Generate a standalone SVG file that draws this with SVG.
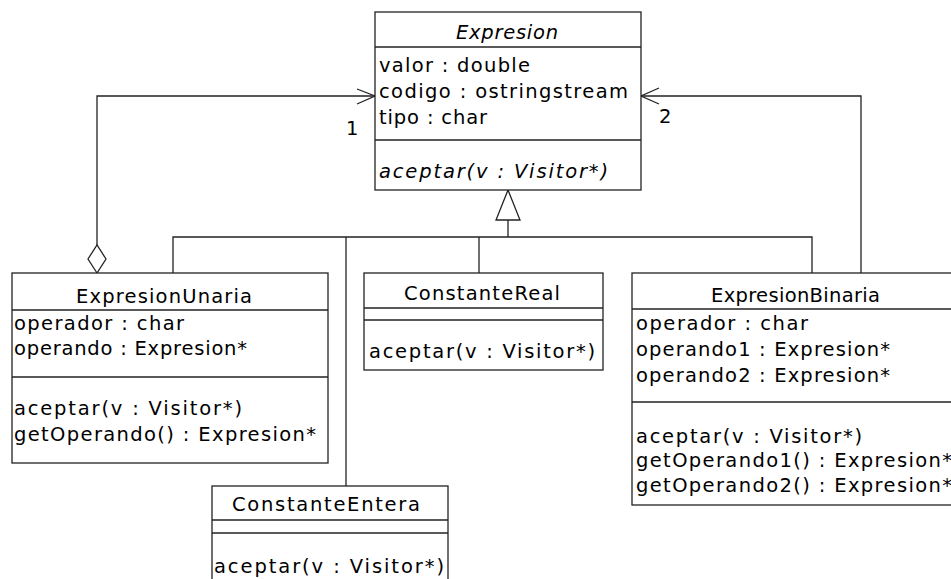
<svg xmlns="http://www.w3.org/2000/svg" width="951" height="579" viewBox="0 0 951 579">
<style>
  text { font-family: "DejaVu Sans", "Liberation Sans", sans-serif; font-size: 19.5px; fill: #000; }
  .it { font-style: italic; }
  .box { fill: #fff; stroke: #222; stroke-width: 1.3; }
  .sep { stroke: #222; stroke-width: 1.3; }
  .ln { fill: none; stroke: #222; stroke-width: 1.3; }
</style>
<rect width="951" height="579" fill="#fff"/>
<g id="connectors">
  <polyline class="ln" points="173,273 173,237 812,237 812,273"/>
  <line class="ln" x1="346" y1="237" x2="346" y2="486"/>
  <line class="ln" x1="479" y1="237" x2="479" y2="273"/>
  <line class="ln" x1="508" y1="220" x2="508" y2="237"/>
  <polygon points="508,190 496,220 520,220" fill="#fff" stroke="#222" stroke-width="1.3"/>
  <polyline class="ln" points="97,245 97,96 375,96"/>
  <polygon points="97,273 88,259 97,245 106,259" fill="#fff" stroke="#222" stroke-width="1.3"/>
  <polyline class="ln" points="357,89 375,96 357,104"/>
  <text x="346" y="135">1</text>
  <polyline class="ln" points="861,273 861,96 641,96"/>
  <polyline class="ln" points="659,88 641,96 659,104"/>
  <text x="659" y="123">2</text>
</g>
<g id="Expresion">
  <rect class="box" x="375" y="12" width="266" height="178"/>
  <line class="sep" x1="375" y1="47" x2="641" y2="47"/>
  <line class="sep" x1="375" y1="140" x2="641" y2="140"/>
  <text class="it" x="456" y="39" textLength="102" lengthAdjust="spacing">Expresion</text>
  <text x="379" y="72" textLength="151" lengthAdjust="spacing">valor : double</text>
  <text x="379" y="98" textLength="249" lengthAdjust="spacing">codigo : ostringstream</text>
  <text x="379" y="124" textLength="108" lengthAdjust="spacing">tipo : char</text>
  <text class="it" x="379" y="178" textLength="229" lengthAdjust="spacing">aceptar(v : Visitor*)</text>
</g>
<g id="ExpresionUnaria">
  <rect class="box" x="12" y="273" width="316" height="190"/>
  <line class="sep" x1="12" y1="310" x2="328" y2="310"/>
  <line class="sep" x1="12" y1="377" x2="328" y2="377"/>
  <text x="76" y="303" textLength="176" lengthAdjust="spacing">ExpresionUnaria</text>
  <text x="14" y="330" textLength="170" lengthAdjust="spacing">operador : char</text>
  <text x="14" y="355" textLength="233" lengthAdjust="spacing">operando : Expresion*</text>
  <text x="14" y="415" textLength="228" lengthAdjust="spacing">aceptar(v : Visitor*)</text>
  <text x="14" y="441" textLength="302" lengthAdjust="spacing">getOperando() : Expresion*</text>
</g>
<g id="ConstanteReal">
  <rect class="box" x="364" y="273" width="239" height="97"/>
  <line class="sep" x1="364" y1="308" x2="603" y2="308"/>
  <line class="sep" x1="364" y1="320" x2="603" y2="320"/>
  <text x="404" y="300" textLength="156" lengthAdjust="spacing">ConstanteReal</text>
  <text x="369" y="358" textLength="226" lengthAdjust="spacing">aceptar(v : Visitor*)</text>
</g>
<g id="ExpresionBinaria">
  <rect class="box" x="632" y="273" width="327" height="232"/>
  <line class="sep" x1="632" y1="309" x2="959" y2="309"/>
  <line class="sep" x1="632" y1="402" x2="959" y2="402"/>
  <text x="711" y="302" textLength="169" lengthAdjust="spacing">ExpresionBinaria</text>
  <text x="636" y="330" textLength="172" lengthAdjust="spacing">operador : char</text>
  <text x="636" y="356" textLength="254" lengthAdjust="spacing">operando1 : Expresion*</text>
  <text x="636" y="382" textLength="254" lengthAdjust="spacing">operando2 : Expresion*</text>
  <text x="636" y="443" textLength="226" lengthAdjust="spacing">aceptar(v : Visitor*)</text>
  <text x="636" y="467" textLength="316" lengthAdjust="spacing">getOperando1() : Expresion*</text>
  <text x="636" y="492" textLength="316" lengthAdjust="spacing">getOperando2() : Expresion*</text>
</g>
<g id="ConstanteEntera">
  <rect class="box" x="212" y="486" width="236" height="110"/>
  <line class="sep" x1="212" y1="520" x2="448" y2="520"/>
  <line class="sep" x1="212" y1="533" x2="448" y2="533"/>
  <text x="232" y="511" textLength="188" lengthAdjust="spacing">ConstanteEntera</text>
  <text x="214" y="573" textLength="230" lengthAdjust="spacing">aceptar(v : Visitor*)</text>
</g>
</svg>
